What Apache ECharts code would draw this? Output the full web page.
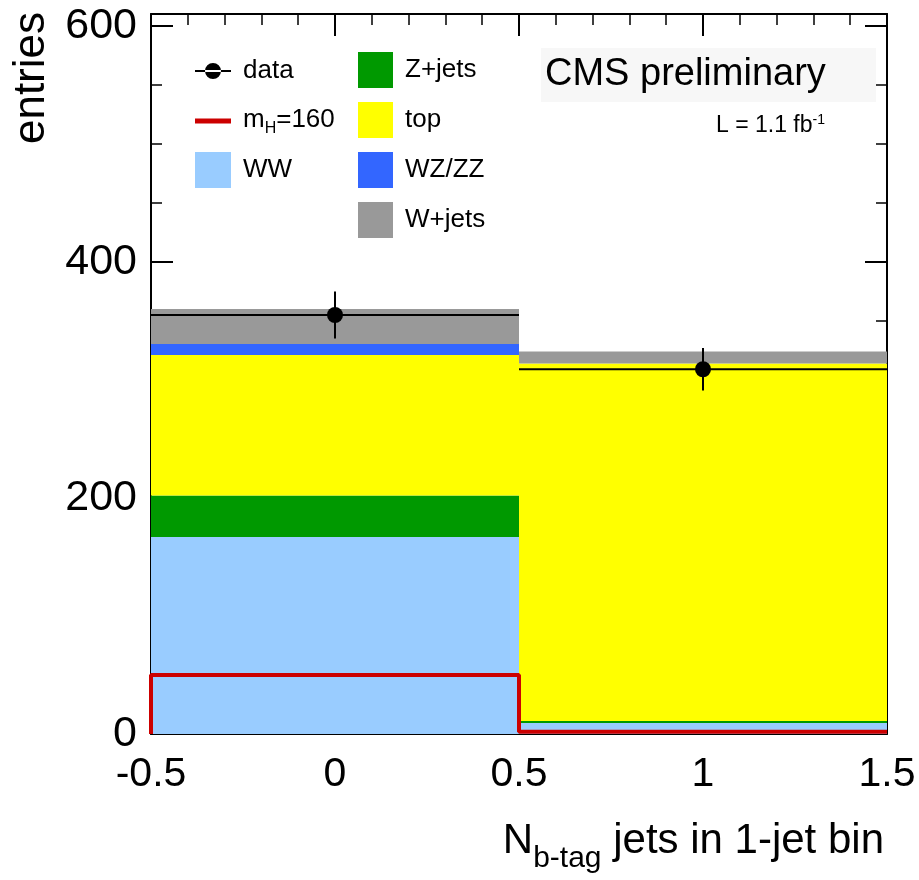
<!DOCTYPE html>
<html>
<head>
<meta charset="utf-8">
<script src="https://cdn.jsdelivr.net/npm/echarts@6/dist/echarts.min.js"></script>
<style>
  html, body { margin: 0; padding: 0; background: #fff; }
  #chart { width: 919px; height: 880px; }
</style>
</head>
<body>
<div id="chart"></div>
<script>
// bin centres of the histogram (N b-tag jets)
const binCenters = [0, 1]
const binHalfWidth = 0.5

// stacked backgrounds, bottom to top
const wwValues = [167, 9.3]
const zjetsValues = [35, 1.7]
const topValues = [119, 303]
const wzzzValues = [9.5, 0]
const wjetsValues = [29.5, 10]

// signal and data
const signalValues = [50, 2]
const dataValues = [355, 309]
const dataErrors = [20, 18]

const yTicks = [0, 200, 400, 600]
const xTicks = [-0.5, 0, 0.5, 1, 1.5]

const FONT = '"Liberation Sans", Arial, Helvetica, sans-serif'

const stackDefs = [
  { name: 'WW', values: wwValues, color: '#99ccff' },
  { name: 'Z+jets', values: zjetsValues, color: '#009900' },
  { name: 'top', values: topValues, color: '#ffff00' },
  { name: 'WZ/ZZ', values: wzzzValues, color: '#3366ff' },
  { name: 'W+jets', values: wjetsValues, color: '#999999' }
]

// running sum so each component sits on the previous one
const base = binCenters.map(() => 0)
const stackSeries = stackDefs.map(def => {
  const data = binCenters.map((x, i) => {
    const lo = base[i]
    const hi = lo + def.values[i]
    base[i] = hi
    return [x, lo, hi]
  })
  return {
    name: def.name,
    type: 'custom',
    itemStyle: { color: def.color },
    data,
    renderItem: (params, api) => {
      const x = api.value(0)
      const p0 = api.coord([x - binHalfWidth, api.value(1)])
      const p1 = api.coord([x + binHalfWidth, api.value(2)])
      return {
        type: 'rect',
        shape: { x: p0[0], y: p1[1], width: p1[0] - p0[0], height: p0[1] - p1[1] },
        style: { fill: def.color }
      }
    }
  }
})

// step outline for the signal histogram
const signalLine = [[binCenters[0] - binHalfWidth, 0]]
binCenters.forEach((x, i) => {
  signalLine.push([x - binHalfWidth, signalValues[i]])
  signalLine.push([x + binHalfWidth, signalValues[i]])
})

const dataSeries = {
  name: 'data',
  type: 'custom',
  itemStyle: { color: '#000' },
  z: 10,
  data: binCenters.map((x, i) => [x, dataValues[i], dataErrors[i]]),
  renderItem: (params, api) => {
    const x = api.value(0), y = api.value(1), e = api.value(2)
    const c = api.coord([x, y])
    const l = api.coord([x - binHalfWidth, y])
    const r = api.coord([x + binHalfWidth, y])
    const t = api.coord([x, y + e])
    const b = api.coord([x, y - e])
    const ls = { stroke: '#000', lineWidth: 2 }
    return {
      type: 'group',
      children: [
        { type: 'line', shape: { x1: l[0], y1: l[1], x2: r[0], y2: r[1] }, style: ls },
        { type: 'line', shape: { x1: t[0], y1: t[1], x2: b[0], y2: b[1] }, style: ls },
        { type: 'circle', shape: { cx: c[0], cy: c[1], r: 8 }, style: { fill: '#000' } }
      ]
    }
  }
}

const chart = echarts.init(document.getElementById('chart'))

const legendText = {
  fontFamily: FONT,
  color: '#000',
  rich: {
    g: { width: 7 },
    p: { fontSize: 26, fontFamily: FONT, color: '#000', lineHeight: 30 },
    t: { fontSize: 26, fontFamily: FONT, color: '#000', verticalAlign: 'bottom', lineHeight: 32, padding: [0, 0, 4, 0] },
    s: { fontSize: 16, fontFamily: FONT, color: '#000', verticalAlign: 'bottom', lineHeight: 28, padding: [8, 0, 0, 0] }
  }
}
const legendFormatter = name => name === 'mH=160'
  ? '{g|}{t|m}{s|H}{t|=160}'
  : '{g|}{p|' + name + '}'

// left legend column: one legend per row, since line icons are not 36px tall
const leftLegend = (item, top) => ({
  orient: 'vertical', left: 195, top, padding: 0,
  itemWidth: 36, itemHeight: 36, selectedMode: false,
  textStyle: legendText, formatter: legendFormatter,
  data: [item]
})

const axisCommon = {
  axisLine: { show: true, onZero: false, lineStyle: { color: '#000', width: 2 } },
  splitLine: { show: false },
  axisTick: { show: true, inside: true, length: 22, lineStyle: { color: '#000', width: 2 } },
  minorTick: { show: true, length: 11, lineStyle: { color: '#000', width: 1.5 } }
}

const option = {
  animation: false,
  backgroundColor: '#fff',
  grid: { left: 151, right: 32, top: 14, bottom: 146 },
  xAxis: [
    {
      type: 'value', min: -0.5, max: 1.5, interval: 0.5, position: 'bottom',
      ...axisCommon,
      minorTick: { ...axisCommon.minorTick, splitNumber: 5 },
      axisLabel: {
        margin: 20, fontSize: 41, fontFamily: FONT, color: '#000',
        formatter: v => xTicks.includes(v) ? String(v) : ''
      }
    },
    {
      type: 'value', min: -0.5, max: 1.5, interval: 0.5, position: 'top',
      ...axisCommon,
      minorTick: { ...axisCommon.minorTick, splitNumber: 5 },
      axisLabel: { show: false }
    }
  ],
  yAxis: [
    {
      type: 'value', min: 0, max: 610, interval: 200, position: 'left',
      ...axisCommon,
      minorTick: { ...axisCommon.minorTick, splitNumber: 4 },
      axisLabel: {
        margin: 14, fontSize: 43, fontFamily: FONT, color: '#000', showMaxLabel: false,
        formatter: v => yTicks.includes(v) ? String(v) : ''
      }
    },
    {
      type: 'value', min: 0, max: 610, interval: 200, position: 'right',
      ...axisCommon,
      minorTick: { ...axisCommon.minorTick, splitNumber: 4 },
      axisLabel: { show: false }
    }
  ],
  legend: [
    leftLegend({ name: 'data', icon: 'path://M0,7H36V9H0Z M10,8A8,8 0 1,0 26,8A8,8 0 1,0 10,8Z', itemStyle: { color: '#000' } }, 58),
    leftLegend({ name: 'mH=160', icon: 'path://M0,0H36V5H0Z', itemStyle: { color: '#cc0000' } }, 107),
    leftLegend({ name: 'WW', icon: 'rect', itemStyle: { color: '#99ccff' } }, 152),
    {
      orient: 'vertical', left: 358, top: 52, padding: 0,
      itemWidth: 35, itemHeight: 36, itemGap: 14, selectedMode: false,
      textStyle: legendText, formatter: legendFormatter,
      data: stackDefs.slice(1).map(d => ({ name: d.name, icon: 'rect', itemStyle: { color: d.color } }))
    }
  ],
  series: [
    ...stackSeries,
    {
      name: 'mH=160',
      type: 'line',
      data: signalLine,
      symbol: 'none',
      z: 5,
      itemStyle: { color: '#cc0000' },
      lineStyle: { color: '#cc0000', width: 4 }
    },
    dataSeries
  ],
  graphic: [
    {
      type: 'rect', shape: { x: 541, y: 48, width: 335, height: 54 },
      style: { fill: '#f7f7f7' }, z: 20
    },
    {
      type: 'text', x: 545, y: 75, z: 21,
      style: { text: 'CMS preliminary', font: '38px ' + FONT, fill: '#000', align: 'left', verticalAlign: 'middle' }
    },
    {
      type: 'text', x: 716, y: 137, z: 21,
      style: {
        text: '{n|L = 1.1 fb}{u|-1}',
        align: 'left', verticalAlign: 'bottom',
        rich: {
          n: { fontSize: 23, fontFamily: FONT, fill: '#000', verticalAlign: 'bottom', lineHeight: 26 },
          u: { fontSize: 14, fontFamily: FONT, fill: '#000', verticalAlign: 'bottom', lineHeight: 26, padding: [0, 0, 10, 0] }
        }
      }
    },
    {
      type: 'text', x: 884, y: 874, z: 21,
      style: {
        text: '{n|N}{s|b-tag}{n| jets in 1-jet bin}',
        align: 'right', verticalAlign: 'bottom',
        rich: {
          n: { fontSize: 42, fontFamily: FONT, fill: '#000', verticalAlign: 'bottom', lineHeight: 48, padding: [0, 0, 12, 0] },
          s: { fontSize: 30, fontFamily: FONT, fill: '#000', verticalAlign: 'bottom', lineHeight: 40 }
        }
      }
    },
    {
      type: 'text', x: 32, y: 12, rotation: Math.PI / 2, z: 21,
      style: { text: 'entries', font: '44px ' + FONT, fill: '#000', align: 'right', verticalAlign: 'middle' }
    }
  ]
}

chart.setOption(option)
window.addEventListener('resize', () => chart.resize())
</script>
</body>
</html>
